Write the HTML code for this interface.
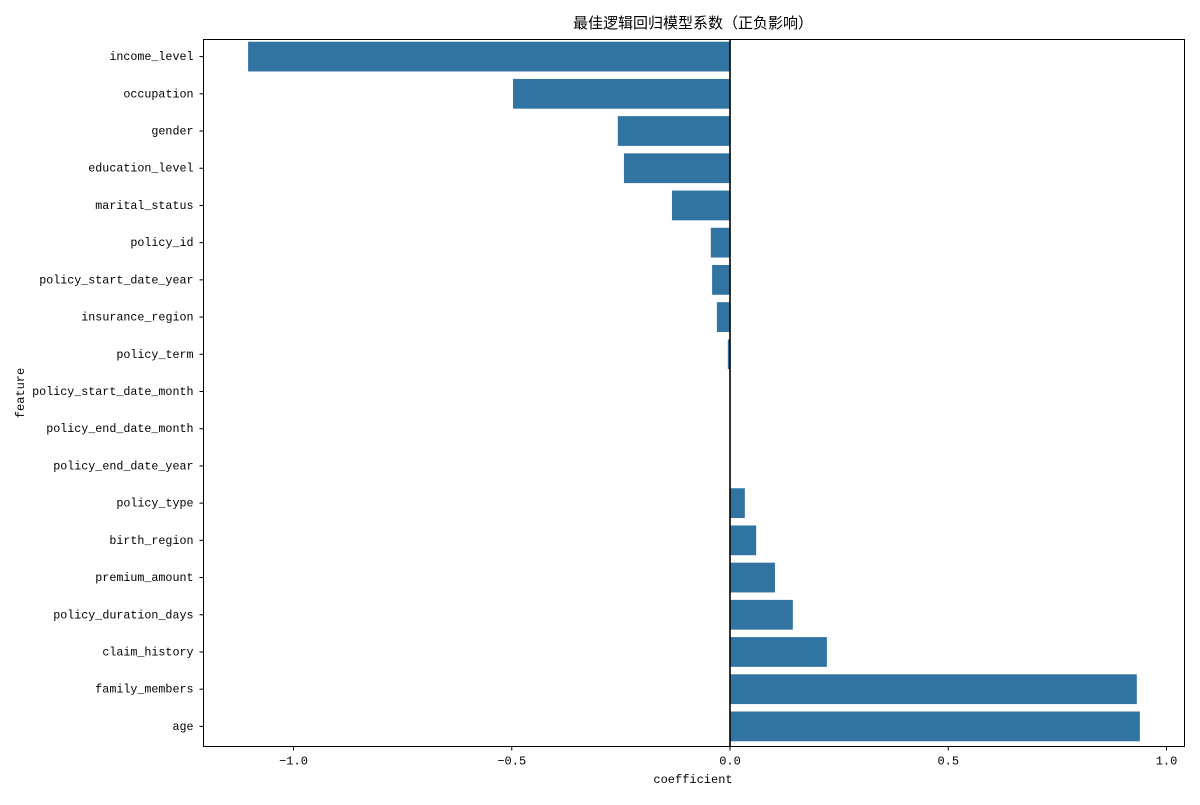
<!DOCTYPE html>
<html><head><meta charset="utf-8"><style>
body{margin:0;background:#fff;}
svg text{font-family:"Liberation Mono","WenQuanYi Zen Hei",monospace;fill:#000;}
</style></head><body>
<svg id="chart" width="1200" height="800" xmlns="http://www.w3.org/2000/svg">
<text x="693" y="28" text-anchor="middle" style="font-family:'Noto Sans CJK SC','WenQuanYi Zen Hei',sans-serif;font-size:15px">最佳逻辑回归模型系数（正负影响）</text>
<g id="bars"></g><g id="yticks"></g><g id="xticks"></g>
<rect x="203.5" y="39.5" width="981" height="707" fill="none" stroke="#000" stroke-width="1"/>
<text x="693" y="783" text-anchor="middle" font-size="12">coefficient</text>
<text transform="translate(24,393) rotate(-90)" text-anchor="middle" font-size="12">feature</text>
</svg>
<script>
const features=["income_level","occupation","gender","education_level","marital_status","policy_id","policy_start_date_year","insurance_region","policy_term","policy_start_date_month","policy_end_date_month","policy_end_date_year","policy_type","birth_region","premium_amount","policy_duration_days","claim_history","family_members","age"];
const coefficients=[-1.104,-0.497,-0.257,-0.243,-0.133,-0.044,-0.041,-0.030,-0.005,0,0,0,0.034,0.060,0.103,0.144,0.222,0.932,0.939];
const xTicks=[-1.0,-0.5,0.0,0.5,1.0];
const xTickLabels=["−1.0","−0.5","0.0","0.5","1.0"];
const L=203.5,R=1184.5,T=38,B=745;
const x=v=>730+v*436.5;
const band=(B-T)/features.length;
const y=i=>T+band*i;
const NS="http://www.w3.org/2000/svg";
function mk(t,a,p){const e=document.createElementNS(NS,t);for(const k in a)e.setAttribute(k,a[k]);p.appendChild(e);return e;}
const gb=document.getElementById('bars'),gy=document.getElementById('yticks'),gx=document.getElementById('xticks');
features.forEach((f,i)=>{
 const v=coefficients[i];
 const r=mk('rect',{x:Math.min(x(0),x(v)),y:y(i)+band*0.1,width:Math.abs(x(v)-x(0)),height:band*0.8,fill:'#3274a1'},gb);
 
 
 const cy=y(i)+band/2;
 mk('line',{x1:L-4,x2:L,y1:cy,y2:cy,stroke:'#000'},gy);
 const t=mk('text',{x:L-10,y:cy+3.5,'text-anchor':'end','font-size':'11.7'},gy);
 t.textContent=f;
 
 
});
const zl=mk('line',{x1:x(0),x2:x(0),y1:39.5,y2:746.5,stroke:'#000','stroke-width':1.6},gb);


xTicks.forEach((v,i)=>{
 mk('line',{x1:x(v),x2:x(v),y1:746.5,y2:750.5,stroke:'#000'},gx);
 const t=mk('text',{x:x(v),y:764.5,'text-anchor':'middle','font-size':'12'},gx);
 t.textContent=xTickLabels[i];
 
 
});
</script>
</body></html>
